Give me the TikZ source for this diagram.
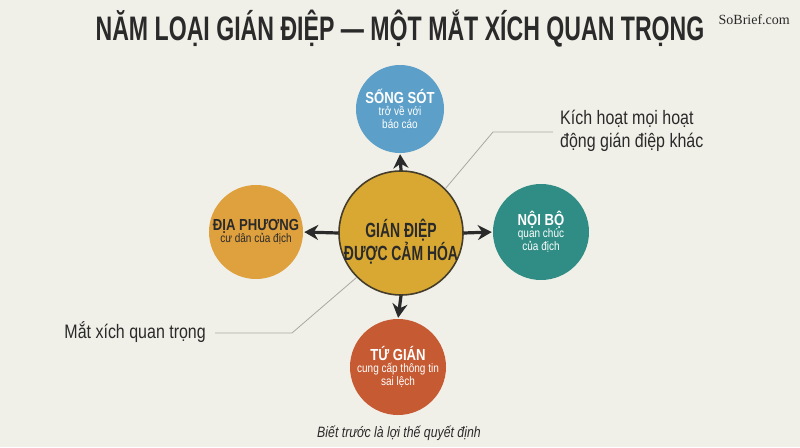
\documentclass[tikz,border=0pt]{standalone}
\usepackage{fontspec}
\setmainfont[FakeStretch=0.82]{Liberation Sans}
\newfontfamily\narrowfont[FakeStretch=0.68]{Liberation Sans}
\newfontfamily\brandfont{Liberation Serif}
\usetikzlibrary{arrows.meta}
\definecolor{bg}{HTML}{F1F0E8}
\definecolor{ink}{HTML}{2A2A2A}
\definecolor{cBlue}{HTML}{5C9FC8}
\definecolor{cGold}{HTML}{D8A832}
\definecolor{cOrange}{HTML}{DFA03E}
\definecolor{cTeal}{HTML}{2F8D85}
\definecolor{cRust}{HTML}{C65B33}
\definecolor{leader}{HTML}{A8A8A2}
\tikzset{
  bubble/.style={circle, inner sep=0pt, align=center, font=\fontsize{12.2}{12.8}\selectfont},
  arr/.style={draw=ink, line width=3.2pt, -{Stealth[length=14pt,width=15pt]}, shorten >=1pt},
  leaderline/.style={draw=leader, line width=0.8pt},
  note/.style={font=\fontsize{19.5}{23}\selectfont, text=ink, align=left, inner sep=0pt},
}
\newcommand\hdtxt[1]{{\fontsize{16}{18}\selectfont\bfseries #1}}
\begin{document}
\begin{tikzpicture}[x=1pt,y=-1pt]
\fill[bg] (0,0) rectangle (800,447);
\useasboundingbox (0,0) rectangle (800,447);

\node[font=\narrowfont\fontsize{34}{34}\selectfont\bfseries, text=ink, inner sep=0pt] (title) at (400,29) {NĂM LOẠI GIÁN ĐIỆP — MỘT MẮT XÍCH QUAN TRỌNG};
\node[font=\brandfont\fontsize{14}{14}\selectfont, text=ink, inner sep=0pt, anchor=base east] (brand) at (790,24) {SoBrief.com};

\node[circle, fill=cGold, draw=ink!85!cGold, line width=1.6pt, minimum size=124pt] (c) at (401,233) {};
\node[font=\narrowfont\fontsize{20.5}{21.5}\selectfont\bfseries, text=ink, align=center, inner sep=0pt] (ctext) at (401,242) {GIÁN ĐIỆP\\ĐƯỢC CẢM HÓA};

\node[bubble, fill=cBlue, minimum size=88pt, text=white] (top) at (400,109)
  {\hdtxt{SỐNG SÓT}\\[-1pt]trở về với\\báo cáo};
\node[bubble, fill=cOrange, minimum size=94pt, text=ink] (left) at (256,232)
  {\hdtxt{ĐỊA PHƯƠNG}\\[-1pt]cư dân của địch};
\node[bubble, fill=cTeal, minimum size=96pt, text=white] (right) at (541,232)
  {\hdtxt{NỘI BỘ}\\[-1pt]quan chúc\\của địch};
\node[bubble, fill=cRust, minimum size=96pt, text=white] (bottom) at (398,367)
  {\hdtxt{TỨ GIÁN}\\[-1pt]cung cấp thông tin\\sai lệch};

\draw[arr] (c.north) -- (top.south);
\draw[arr] (c.west) -- (left.east);
\draw[arr] (c.east) -- (right.west);
\draw[arr] (c.south) -- (bottom.north);

\node[note, anchor=north west] (n1) at (560,110) {Kích hoạt mọi hoạt\\động gián điệp khác};
\node[note, anchor=east] (n2) at (206,332) {Mắt xích quan trọng};
\coordinate (k1) at (553,132);
\coordinate (k2) at (493,132);
\coordinate (m1) at (215,333);
\coordinate (m2) at (292,333);
\draw[leaderline] (k1) -- (k2) -- (c.45);
\draw[leaderline] (m1) -- (m2) -- (c.225);

\node[font=\fontsize{15}{15}\selectfont\itshape, text=ink, inner sep=0pt, anchor=base] (cap) at (399,437) {Biết trước là lợi thế quyết định};
\end{tikzpicture}
\end{document}
